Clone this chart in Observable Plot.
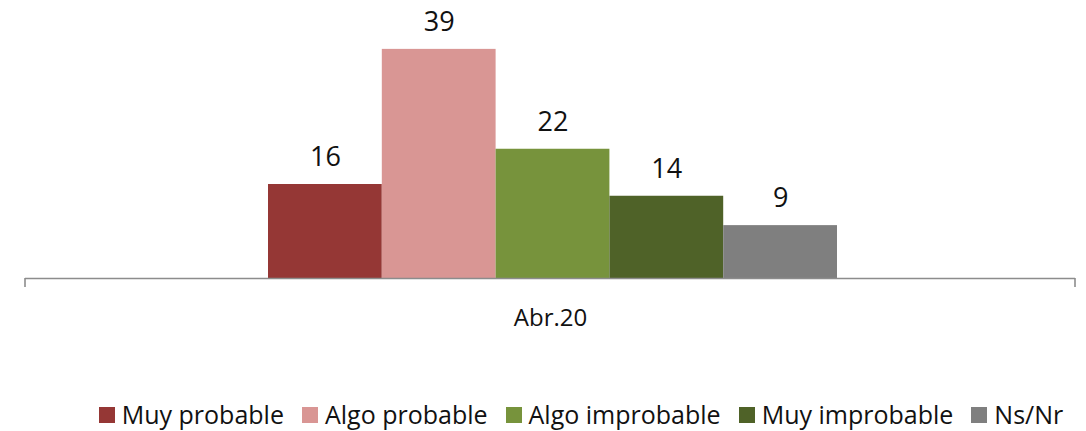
<!DOCTYPE html>
<html>
<head>
<meta charset="utf-8">
<script src="https://cdn.jsdelivr.net/npm/d3@7"></script>
<script src="https://cdn.jsdelivr.net/npm/@observablehq/plot@0.6"></script>
<style>
  html, body { margin: 0; padding: 0; background: #fff; }
  body { width: 1086px; height: 431px; overflow: hidden; font-family: "Open Sans", sans-serif; }
  #legend { display: flex; align-items: center; justify-content: center; margin-top: 57px; padding-left: 76px; font-size: 25px; color: #111; line-height: 1; }
  .item { display: flex; align-items: center; margin: 0 9px; white-space: nowrap; }
  .sw { width: 16px; height: 16px; margin-right: 7px; }
</style>
</head>
<body>
<div id="chart"></div>
<div id="legend"></div>
<script>
const category = "Abr.20";
const series = ["Muy probable", "Algo probable", "Algo improbable", "Muy improbable", "Ns/Nr"];
const values = [16, 39, 22, 14, 9];
const colors = ["#953735", "#D99694", "#77933C", "#4F6228", "#7F7F7F"];

const data = series.map((s, i) => ({category, series: s, value: values[i]}));

const W = 1086, H = 345;
const plot = Plot.plot({
  width: W,
  height: H,
  marginLeft: 25,
  marginRight: 11,
  marginTop: 43,
  marginBottom: 67,
  style: {fontFamily: "'Open Sans', sans-serif", background: "#fff", overflow: "visible"},
  x: {domain: series, range: [268, 837], padding: 0, round: false, axis: null},
  y: {domain: [0, 40], axis: null},
  color: {domain: series, range: colors},
  marks: [
    Plot.barY(data, {x: "series", y: "value", fill: "series"}),
    Plot.ruleY([0], {stroke: "#8c8c8c", strokeWidth: 1.6}),
    Plot.text(data, {x: "series", y: "value", text: d => String(d.value), dy: -27, lineAnchor: "middle", fontSize: 27, fill: "#111"}),
    Plot.text([category], {frameAnchor: "bottom", text: d => d, dy: 40, lineAnchor: "middle", fontSize: 24, fill: "#111"})
  ]
});
document.getElementById("chart").appendChild(plot);

// category boundary ticks at the ends of the axis line, baseline from the y scale
const y0 = plot.scale("y").apply(0);
const svg = d3.select(plot);
[25, W - 11].forEach(px => {
  svg.append("line").attr("x1", px).attr("x2", px).attr("y1", y0).attr("y2", y0 + 9)
    .attr("stroke", "#8c8c8c").attr("stroke-width", 1.6);
});

const legend = d3.select("#legend");
series.forEach((s, i) => {
  const it = legend.append("div").attr("class", "item");
  it.append("div").attr("class", "sw").style("background", colors[i]);
  it.append("span").text(s);
});
</script>
</body>
</html>
